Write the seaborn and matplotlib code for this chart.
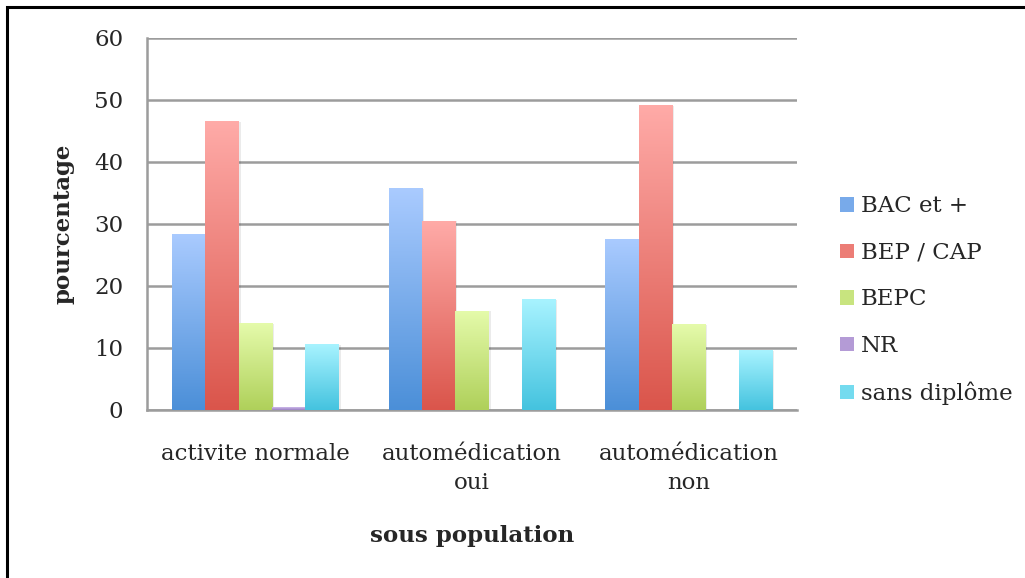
import matplotlib
matplotlib.use("Agg")
import matplotlib.pyplot as plt
import numpy as np
import pandas as pd
import seaborn as sns
from matplotlib.colors import LinearSegmentedColormap
from matplotlib.patches import Rectangle

groups = ["activite normale", "automédication\noui", "automédication\nnon"]
niveaux = ["BAC et +", "BEP / CAP", "BEPC", "NR", "sans diplôme"]
bac = [28.4, 35.8, 27.6]
bep = [46.6, 30.5, 49.2]
bepc = [14.0, 16.0, 13.8]
nr = [0.4, 0.0, 0.0]
sans = [10.6, 17.9, 9.6]

# gradient colours (top, bottom) for each level
top_cols = ["#aacbff", "#ffaba8", "#e5fbab", "#cdb9ea", "#a8f3ff"]
bot_cols = ["#4b8fd8", "#da554b", "#afd05a", "#9a80c2", "#44c3df"]
mid_cols = ["#78aaea", "#ec7d76", "#c8e47f", "#b49bd6", "#74dbef"]

rows = []
for name, vals in zip(niveaux, [bac, bep, bepc, nr, sans]):
    for g, v in zip(groups, vals):
        rows.append({"sous population": g, "niveau": name, "pourcentage": v})
df = pd.DataFrame(rows)

sns.set_theme(style="white")
plt.rcParams["font.family"] = ["DejaVu Serif"]
fs = 16.5

fig = plt.figure(figsize=(10.25, 5.78), dpi=100)
ax = fig.add_axes([0.1434, 0.2907, 0.6342, 0.6436])

sns.barplot(data=df, x="sous population", y="pourcentage", hue="niveau",
            hue_order=niveaux, palette=bot_cols, width=0.77, ax=ax,
            edgecolor="none", linewidth=0, errorbar=None, zorder=3)

# gradient fill clipped to each bar
grad = np.linspace(0, 1, 256).reshape(-1, 1)
for cont, tc, bc in zip(ax.containers, top_cols, bot_cols):
    cmap = LinearSegmentedColormap.from_list("g", [bc, tc])
    for p in cont.patches:
        x0, y0 = p.get_x(), p.get_y()
        w, h = p.get_width(), p.get_height()
        if h <= 0:
            continue
        sh = Rectangle((x0 + w * 0.06, y0), w, h - 0.1, facecolor="#000000",
                       alpha=0.08, edgecolor="none", zorder=2.5)
        ax.add_patch(sh)
        im = ax.imshow(grad, cmap=cmap, origin="lower", aspect="auto",
                       extent=[x0, x0 + w, y0, y0 + h], zorder=3.5)
        im.set_clip_path(p)

ax.set_xlim(-0.5, 2.5)
ax.set_ylim(0, 60)
ax.set_yticks(range(0, 61, 10))
ax.yaxis.grid(True, color="#9c9c9c", linewidth=1.8)
ax.set_axisbelow(True)

for s in ["top", "right"]:
    ax.spines[s].set_visible(False)
for s in ["left", "bottom"]:
    ax.spines[s].set_color("#9c9c9c")
    ax.spines[s].set_linewidth(1.8)

ax.set_xticks([-0.5, 0.5, 1.5, 2.5], minor=True)
ax.tick_params(axis="x", which="major", length=0, pad=24, labelsize=fs)
ax.tick_params(axis="x", which="minor", direction="out", length=7,
               width=1.8, color="#9c9c9c")
ax.tick_params(axis="y", direction="out", length=7, width=1.8,
               color="#9c9c9c", labelsize=fs, pad=10)
for lab in ax.get_xticklabels():
    lab.set_linespacing(1.4)

ax.set_xlabel("sous population", fontsize=fs, fontweight="bold", labelpad=22)
ax.set_ylabel("pourcentage", fontsize=fs, fontweight="bold", labelpad=14)

handles, labels = ax.get_legend_handles_labels()
for h, mc in zip(handles, mid_cols):
    h.set_facecolor(mc)
ax.legend(handles, labels, loc="center left", bbox_to_anchor=(1.052, 0.295),
          frameon=False, fontsize=fs, handlelength=0.6, handleheight=0.6,
          handletextpad=0.3, labelspacing=1.07, borderaxespad=0)

fig.patches.append(Rectangle((7 / 1025, -0.1), 1.2, 1 - 7 / 578 + 0.1,
                             transform=fig.transFigure, fill=False,
                             edgecolor="black", linewidth=2.2))

fig.savefig("out.png", dpi=100, facecolor="white")
